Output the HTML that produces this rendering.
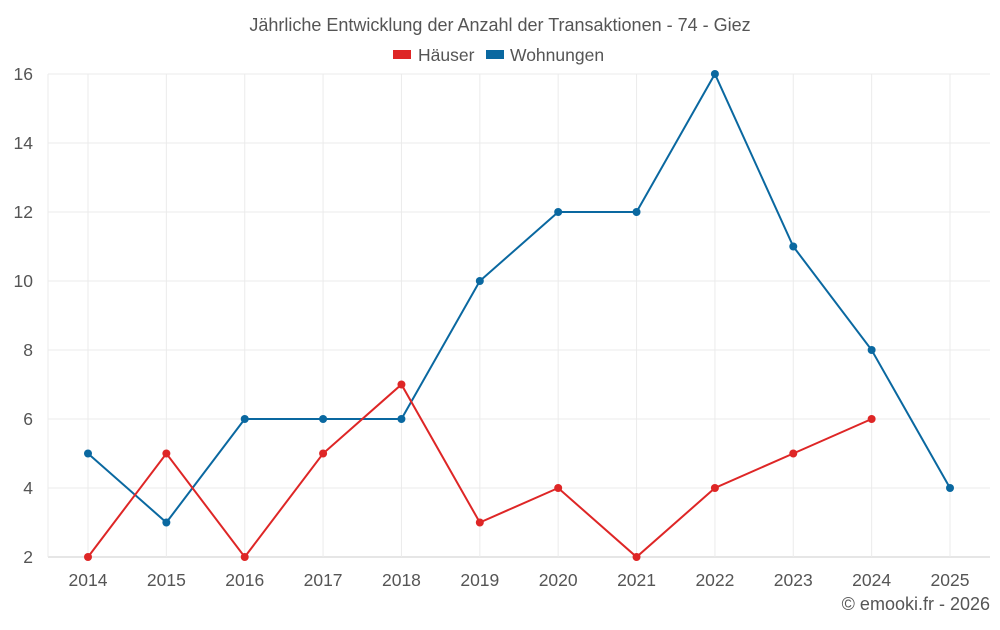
<!DOCTYPE html>
<html><head><meta charset="utf-8"><style>
body{margin:0;background:#fff;font-family:"Liberation Sans",sans-serif;}
</style></head><body>
<svg id="chart" width="1000" height="625" xmlns="http://www.w3.org/2000/svg" font-family="Liberation Sans, sans-serif">
<text x="500" y="31" text-anchor="middle" font-size="18" fill="#555">Jährliche Entwicklung der Anzahl der Transaktionen - 74 - Giez</text>
<g>
<rect x="393" y="50" width="18" height="9" fill="#de2626"/>
<text x="418" y="61" font-size="17.5" fill="#555">Häuser</text>
<rect x="486" y="50" width="18" height="9" fill="#0a68a0"/>
<text x="510" y="61" font-size="17.5" fill="#555">Wohnungen</text>
</g>
<g id="grid"></g>
<g id="axes"></g>
<g id="series"></g>
<text x="990" y="610" text-anchor="end" font-size="18" fill="#555">© emooki.fr - 2026</text>
</svg>
<script>
const years = ["2014","2015","2016","2017","2018","2019","2020","2021","2022","2023","2024","2025"];
const haeuser = [2,5,2,5,7,3,4,2,4,5,6];
const wohnungen = [5,3,6,6,6,10,12,12,16,11,8,4];
const yTicks = [2,4,6,8,10,12,14,16];
const NS="http://www.w3.org/2000/svg";
const x0=88,x1=950,yTop=74,yBot=557,left=48,right=990;
const xs=i=>x0+(x1-x0)*i/(years.length-1);
const ys=v=>yBot-(v-2)/(16-2)*(yBot-yTop);
function mk(t,a,p){const e=document.createElementNS(NS,t);for(const k in a)e.setAttribute(k,a[k]);p.appendChild(e);return e;}
const grid=document.getElementById('grid'),axes=document.getElementById('axes'),ser=document.getElementById('series');
yTicks.forEach(v=>{
  const l=mk('line',{x1:left,x2:right,y1:ys(v),y2:ys(v),stroke:v===2?'#ccc':'#ebebeb','stroke-width':1},grid);
  
  
  const t=mk('text',{x:33,y:ys(v)+6,'text-anchor':'end','font-size':17.5,fill:'#555'},axes);
  t.textContent=v;
  
  
});
const lg=mk('line',{x1:left,x2:left,y1:yTop,y2:yBot,stroke:'#ebebeb'},grid);


years.forEach((y,i)=>{
  const l=mk('line',{x1:xs(i),x2:xs(i),y1:yTop,y2:yBot,stroke:'#ebebeb'},grid);
  
  
  const t=mk('text',{x:xs(i),y:586,'text-anchor':'middle','font-size':17.5,fill:'#555'},axes);
  t.textContent=y;
  
  
});
function draw(vals,color,name){
  const pts=vals.map((v,i)=>xs(i)+','+ys(v)).join(' ');
  const pl=mk('polyline',{points:pts,fill:'none',stroke:color,'stroke-width':2},ser);
  
  
  vals.forEach((v,i)=>{
    const c=mk('circle',{cx:xs(i),cy:ys(v),r:4,fill:color},ser);
    
    
  });
}
draw(wohnungen,'#0a68a0','wohnungen');
draw(haeuser,'#de2626','haeuser');
</script>
</body></html>
